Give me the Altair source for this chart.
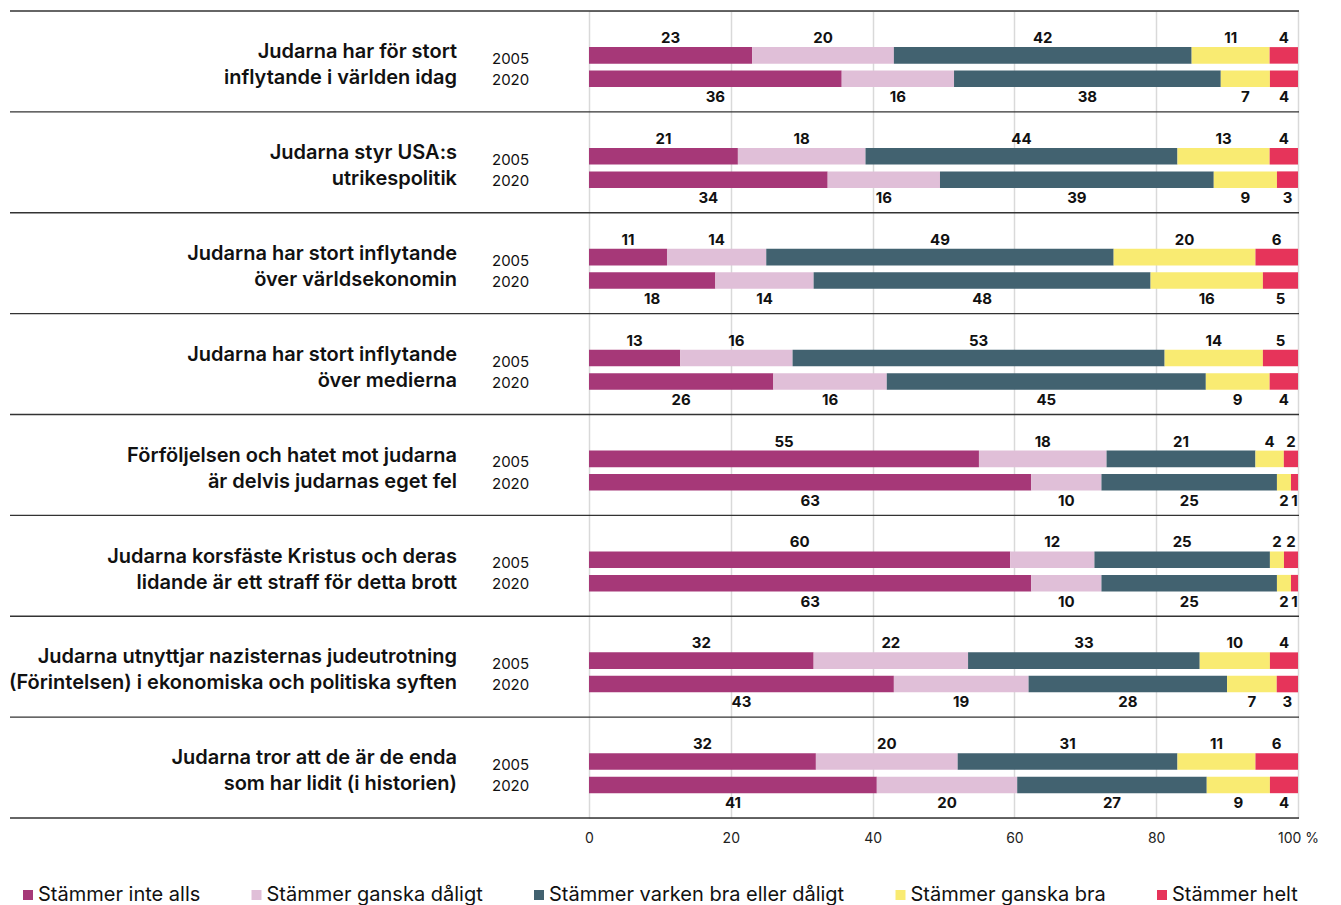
import altair as alt
import pandas as pd

statements = [
    "Judarna har för stort\ninflytande i världen idag",
    "Judarna styr USA:s\nutrikespolitik",
    "Judarna har stort inflytande\növer världsekonomin",
    "Judarna har stort inflytande\növer medierna",
    "Förföljelsen och hatet mot judarna\när delvis judarnas eget fel",
    "Judarna korsfäste Kristus och deras\nlidande är ett straff för detta brott",
    "Judarna utnyttjar nazisternas judeutrotning\n(Förintelsen) i ekonomiska och politiska syften",
    "Judarna tror att de är de enda\nsom har lidit (i historien)",
]
years = ["2005", "2020"]
categories = [
    "Stämmer inte alls",
    "Stämmer ganska dåligt",
    "Stämmer varken bra eller dåligt",
    "Stämmer ganska bra",
    "Stämmer helt",
]
colors = ["#A63878", "#E0BFD8", "#426270", "#F9EB72", "#E6345A"]

values_2005 = [
    [23, 20, 42, 11, 4],
    [21, 18, 44, 13, 4],
    [11, 14, 49, 20, 6],
    [13, 16, 53, 14, 5],
    [55, 18, 21, 4, 2],
    [60, 12, 25, 2, 2],
    [32, 22, 33, 10, 4],
    [32, 20, 31, 11, 6],
]
values_2020 = [
    [36, 16, 38, 7, 4],
    [34, 16, 39, 9, 3],
    [18, 14, 48, 16, 5],
    [26, 16, 45, 9, 4],
    [63, 10, 25, 2, 1],
    [63, 10, 25, 2, 1],
    [43, 19, 28, 7, 3],
    [41, 20, 27, 9, 4],
]

rows = []
for g, st in enumerate(statements):
    for yi, (yr, vals) in enumerate(zip(years, [values_2005[g], values_2020[g]])):
        for ci, (cat, v) in enumerate(zip(categories, vals)):
            rows.append({"g": g, "yi": yi, "year": yr, "cat": cat, "order": ci, "v": v})
df = pd.DataFrame(rows)

lab = pd.DataFrame({"g": list(range(len(statements))), "statement": statements})
yr_rows = pd.DataFrame([{"g": g, "yi": yi, "year": yr} for g in range(len(statements)) for yi, yr in enumerate(years)])
sep = pd.DataFrame({"b": list(range(len(statements) + 1))})

FONT = "Inter"
W, H = 709, 807
PX = W / 100.0  # pixels per percent
xscale = alt.Scale(domain=[0, 100], nice=False, zero=False)
yscale = alt.Scale(domain=[0, len(statements)], reverse=True, nice=False, zero=False)

NB = "\u00a0" * 7
xaxis = alt.Axis(
    values=[0, 20, 40, 60, 80, 100],
    labelExpr=f"datum.value == 100 ? '{NB}100 %' : datum.label",
    labelFlush=False,
    grid=True, gridColor="#d9d9d9", gridWidth=1.5,
    domain=False, ticks=False, title=None,
    labelFont=FONT, labelFontSize=14, labelColor="#222", labelPadding=13,
)

base = alt.Chart(df).transform_window(
    cum="sum(v)", groupby=["g", "yi"], sort=[alt.SortField("order")], frame=[None, 0]
).transform_joinaggregate(
    tot="sum(v)", groupby=["g", "yi"]
).transform_calculate(
    x0="100*(datum.cum - datum.v)/datum.tot",
    x1="100*datum.cum/datum.tot",
    xm="100*(datum.cum - datum.v/2)/datum.tot",
    yc="datum.g + (datum.yi == 0 ? 0.44 : 0.672)",
    ya="datum.yc - 0.082",
    yb="datum.yc + 0.082",
    yl="datum.g + (datum.yi == 0 ? 0.268 : 0.855)",
)

bars = base.mark_rect().encode(
    x=alt.X("x0:Q", scale=xscale, axis=xaxis),
    x2="x1:Q",
    y=alt.Y("ya:Q", scale=yscale, axis=None),
    y2="yb:Q",
    color=alt.Color(
        "cat:N",
        scale=alt.Scale(domain=categories, range=colors),
        legend=alt.Legend(
            title=None, orient="none", direction="horizontal",
            legendX=-571, legendY=874, symbolType="square", symbolSize=100,
            symbolStrokeWidth=0, labelFont=FONT, labelFontSize=20, labelColor="#111",
            columnPadding=45.5, labelOffset=0, labelLimit=400,
        ),
    ),
)

nums = base.mark_text(font=FONT, fontSize=15, fontWeight="bold", color="#111").encode(
    x=alt.X("xm:Q", scale=xscale, axis=xaxis),
    y=alt.Y("yl:Q", scale=yscale, axis=None),
    text="v:Q",
)

stm = alt.Chart(lab).transform_calculate(
    yc="datum.g + 0.408", xt=f"{-132 / PX}"
).mark_text(
    font=FONT, fontSize=20, fontWeight=600, align="right", baseline="middle",
    lineBreak="\n", lineHeight=26, color="#111",
).encode(
    x=alt.X("xt:Q", scale=xscale, axis=xaxis),
    y=alt.Y("yc:Q", scale=yscale, axis=None),
    text="statement:N",
)

yrs = alt.Chart(yr_rows).transform_calculate(
    yc="datum.g + (datum.yi == 0 ? 0.475 : 0.685)", xt=f"{-97 / PX}"
).mark_text(font=FONT, fontSize=15, align="left", baseline="middle", color="#111").encode(
    x=alt.X("xt:Q", scale=xscale, axis=xaxis),
    y=alt.Y("yc:Q", scale=yscale, axis=None),
    text="year:N",
)

rules = alt.Chart(sep).transform_calculate(
    xa=f"{-579 / PX}", xb=f"{(W + 1) / PX}"
).mark_rule(color="#333", strokeWidth=1.3).encode(
    x=alt.X("xa:Q", scale=xscale, axis=xaxis),
    x2="xb:Q",
    y=alt.Y("b:Q", scale=yscale, axis=None),
)

chart = alt.layer(rules, bars, nums, stm, yrs).properties(
    width=W, height=H
).configure_view(stroke=None).configure(
    background="white", padding={"left": 0, "top": 2, "right": 0, "bottom": 0}
)

chart.save("out.html", embed_options={"renderer": "svg", "actions": False})
